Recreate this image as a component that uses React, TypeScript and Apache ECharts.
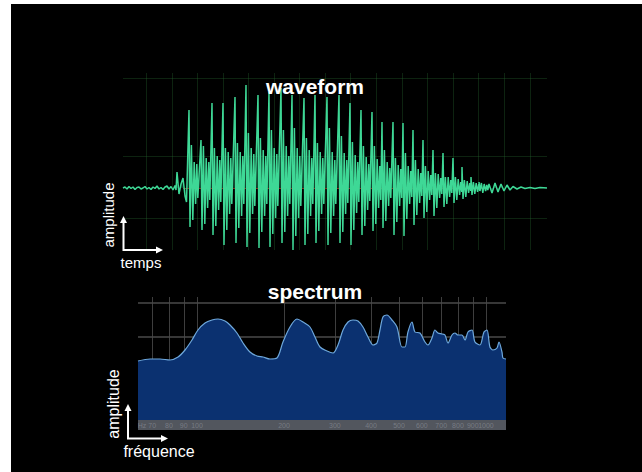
import React, { useEffect, useRef } from "react";
import * as echarts from "echarts";

// ---------- waveform (x: time offset, y: amplitude) ----------
const WAVE_LEAD: number[][] = [
  [0, 0], [2, 1], [4, -1], [6, 1.5], [8, -0.5], [10, 1], [12, -1.5], [14, 0.5],
  [16, 1], [18, -1], [20, 0], [22, 1.5], [24, -1], [26, 0.5], [28, -1.5], [30, 1],
  [32, -0.5], [34, 2], [36, -1], [38, 0.5], [40, -1.5], [42, 1], [44, 2], [46, -1],
  [48, 1.5], [50, -2], [52, 2.5], [53, -2], [54, 16], [56, -6], [58, 4], [60, 10],
  [62, -8], [63.5, -14],
];
// per pitch cycle: [time, peak, trough, 2nd peak, 2nd trough, 3rd peak, 3rd trough, 4th peak, 4th trough]
const WAVE_CYCLES: number[][] = [
  [66, 78, -39, 43, -32, 26, -16, 24, -10],
  [78, 48, -42, 42, -36, 30, -20, 26, -12],
  [89, 85, -47, 40, -38, 32, -22, 28, -14],
  [100, 85, -57, 40, -42, 36, -26, 30, -16],
  [112, 91, -55, 45, -40, 36, -28, 32, -16],
  [123, 103, -59, 55, -45, 40, -26, 34, -18],
  [135, 93, -60, 50, -44, 38, -28, 32, -16],
  [146, 96, -59, 58, -46, 40, -30, 34, -18],
  [158, 100, -55, 58, -44, 42, -28, 32, -16],
  [169, 93, -62, 60, -48, 40, -30, 32, -18],
  [181, 90, -57, 50, -46, 38, -28, 30, -16],
  [192, 93, -55, 45, -43, 36, -26, 30, -16],
  [204, 91, -57, 60, -45, 36, -28, 28, -16],
  [216, 93, -55, 52, -44, 35, -26, 28, -15],
  [227, 85, -57, 46, -42, 33, -25, 26, -14],
  [238, 78, -47, 42, -38, 31, -22, 24, -13],
  [249, 76, -43, 42, -36, 29, -20, 22, -12],
  [259, 66, -40, 38, -33, 26, -18, 20, -10],
  [270, 66, -47, 30, -34, 23, -18, 19, -10],
  [280, 65, -48, 35, -31, 22, -16, 17, -9],
  [290, 58, -37, 28, -27, 19, -15, 15, -8],
  [300, 48, -30, 22, -24, 17, -12, 13, -7],
  [310, 38, -28, 15, -20, 14, -10, 10, -6],
  [320, 35, -19, 11, -16, 11, -9, 8, -5],
  [330, 30, -15, 11, -12, 9, -7, 6, -4],
  [339, 21, -11, 8, -9, 7, -5, 5, -3],
  [348, 11, -7, 6, -6, 5, -4, 4, -3],
  [356, 6, -3, 5, -5, 4, -3, 3, -2],
];
const CYCLE_OFFSETS = [0, 1, 2.4, 3.8, 5.2, 6.6, 7.8, 8.8];
const WAVE_TAIL: number[][] = [
  [366, 4], [369, -5], [372, 5], [375, -4], [378, 4], [381, -3], [384, 3], [387, -2],
  [390, 1.5], [394, -1], [398, 1], [402, -0.5], [407, 0.5], [412, -0.5], [417, 0.5], [424, 0],
];
const WAVE_VGRID = [23, 49, 74, 100, 125, 151, 176, 202, 227, 253, 279, 304, 330, 355, 381, 407];
const WAVE_HGRID = [110, 32, -30];

// ---------- spectrum (x: frequency Hz, y: level) ----------
const SPECTRUM: number[][] = [
  [62.5, 59], [68.8, 61], [74.5, 61], [80.6, 60], [86.0, 63], [90.9, 70], [96.1, 80],
  [100.8, 90], [106.6, 97], [112.7, 100], [118.2, 101], [125.0, 99], [130.1, 95],
  [137.5, 87], [144.3, 77], [152.5, 68], [161.3, 64], [169.2, 63], [178.9, 61],
  [189.1, 62], [198.4, 78], [209.8, 93], [221.8, 101], [232.7, 98], [246.0, 93],
  [256.0, 83], [266.5, 73], [281.8, 69], [295.6, 67], [307.6, 75], [320.1, 90],
  [333.1, 98], [346.6, 100], [360.7, 99], [375.3, 93], [390.6, 83], [406.4, 75],
  [419.6, 77], [429.7, 90], [440.1, 103], [454.3, 105], [472.8, 100], [492.0, 93],
  [512.0, 73], [524.4, 73], [537.1, 88], [554.5, 98], [567.9, 88], [591.0, 87],
  [615.0, 78], [629.9, 75], [650.3, 82], [666.0, 90], [682.2, 87], [704.3, 86],
  [721.3, 85], [738.8, 77], [762.7, 85], [781.2, 87], [800.1, 85], [826.0, 85],
  [846.0, 80], [866.5, 88], [894.6, 90], [916.1, 78], [953.3, 75], [984.2, 88],
  [1008, 90], [1032, 73], [1057, 70], [1092, 72], [1109, 78], [1136, 68],
  [1145, 62], [1173, 61],
];
const SPEC_VGRID = [70, 80, 90, 100, 200, 300, 400, 500, 600, 700, 800, 900, 1000];
const SPEC_HGRID = [117, 83];
const SPEC_TICKS: { f: number; label: string }[] = [
  { f: 64.5, label: "Hz" }, { f: 70, label: "70" }, { f: 80, label: "80" },
  { f: 90, label: "90" }, { f: 100, label: "100" }, { f: 200, label: "200" },
  { f: 300, label: "300" }, { f: 400, label: "400" }, { f: 500, label: "500" },
  { f: 600, label: "600" }, { f: 700, label: "700" }, { f: 800, label: "800" },
  { f: 900, label: "900" }, { f: 1000, label: "1000" },
];

const FONT = '"Liberation Sans", Arial, Helvetica, sans-serif';

function buildWave(): number[][] {
  const pts: number[][] = [...WAVE_LEAD];
  WAVE_CYCLES.forEach((row) => {
    CYCLE_OFFSETS.forEach((o, i) => pts.push([row[0] + o, row[i + 1]]));
  });
  return pts.concat(WAVE_TAIL);
}

function txt(text: string, x: number, y: number, font: string, rotation = 0) {
  return {
    type: "text",
    x,
    y,
    rotation,
    z: 100,
    style: {
      text,
      font,
      fill: "#ffffff",
      align: "center",
      verticalAlign: "middle",
      textAlign: "center",
      textVerticalAlign: "middle",
    },
  };
}

export default function App() {
  const ref = useRef<HTMLDivElement>(null);
  useEffect(() => {
    const chart = echarts.init(ref.current!, null, { renderer: "svg" });
    const option: any = {
      animation: false,
      backgroundColor: "transparent",
      grid: [
        { left: 123, top: 73, width: 424, height: 177 },
        { left: 138, top: 297, width: 368, height: 133 },
      ],
      xAxis: [
        { gridIndex: 0, type: "value", min: 0, max: 424, show: false },
        { gridIndex: 1, type: "log", logBase: 10, min: 62.5, max: 1173, show: false },
      ],
      yAxis: [
        { gridIndex: 0, type: "value", min: -62, max: 115, show: false },
        { gridIndex: 1, type: "value", min: -10, max: 123, show: false },
      ],
      series: [
        {
          name: "waveGrid",
          type: "line",
          xAxisIndex: 0,
          yAxisIndex: 0,
          data: [],
          z: 1,
          silent: true,
          markLine: {
            z: 1,
            silent: true,
            symbol: "none",
            label: { show: false },
            lineStyle: { color: "rgba(40,110,50,0.32)", width: 1, type: "solid" },
            data: [
              ...WAVE_VGRID.map((v) => ({ xAxis: v })),
              ...WAVE_HGRID.map((v) => ({ yAxis: v })),
              [
                { coord: [60, 0], lineStyle: { color: "#8a2c1c", width: 1, type: "solid" } },
                { coord: [362, 0] },
              ],
            ],
          },
        },
        {
          name: "waveform",
          type: "line",
          xAxisIndex: 0,
          yAxisIndex: 0,
          data: buildWave(),
          showSymbol: false,
          z: 3,
          lineStyle: { color: "#3ed896", width: 1.5 },
          areaStyle: { color: "rgba(50,190,130,0.35)" },
        },
        {
          name: "specGrid",
          type: "line",
          xAxisIndex: 1,
          yAxisIndex: 1,
          data: [],
          z: 1,
          silent: true,
          markLine: {
            z: 1,
            silent: true,
            symbol: "none",
            label: { show: false },
            lineStyle: { color: "#3e3e3e", width: 1, type: "solid" },
            data: [
              ...SPEC_VGRID.map((f) => [{ coord: [f, 0] }, { coord: [f, 123] }]),
              ...SPEC_HGRID.map((v) => ({ yAxis: v, lineStyle: { color: "#4a4a4a", width: 1.5, type: "solid" } })),
            ],
          },
          markArea: {
            z: 1,
            silent: true,
            itemStyle: { color: "#52565e" },
            data: [[{ yAxis: -10 }, { yAxis: 0 }]],
          },
        },
        {
          name: "spectrum",
          type: "line",
          xAxisIndex: 1,
          yAxisIndex: 1,
          data: SPECTRUM,
          smooth: 0.3,
          showSymbol: false,
          z: 3,
          lineStyle: { color: "#6ea8dc", width: 1.2 },
          areaStyle: { color: "#0b3170", opacity: 1 },
        },
        {
          name: "specTicks",
          type: "scatter",
          xAxisIndex: 1,
          yAxisIndex: 1,
          z: 5,
          silent: true,
          symbolSize: 1,
          itemStyle: { color: "rgba(0,0,0,0)" },
          data: SPEC_TICKS.map((t) => ({ value: [t.f, -5], name: t.label })),
          label: {
            show: true,
            position: "inside",
            formatter: "{b}",
            color: "#80858e",
            fontSize: 7,
            fontFamily: FONT,
          },
        },
      ],
      graphic: [
        txt("waveform", 315, 86, `bold 21px ${FONT}`),
        txt("spectrum", 315, 291, `bold 21px ${FONT}`),
        txt("amplitude", 108, 215, `15px ${FONT}`, Math.PI / 2),
        txt("temps", 141, 262, `15px ${FONT}`),
        txt("amplitude", 113, 404, `16px ${FONT}`, Math.PI / 2),
        txt("fréquence", 159, 451, `16px ${FONT}`),
        {
          type: "polyline",
          z: 100,
          shape: { points: [[123.5, 221], [123.5, 250], [158, 250]] },
          style: { stroke: "#ffffff", lineWidth: 2, fill: "none" },
        },
        {
          type: "polygon",
          z: 100,
          shape: { points: [[123.5, 216], [120, 223], [127, 223]] },
          style: { fill: "#ffffff" },
        },
        {
          type: "polygon",
          z: 100,
          shape: { points: [[163, 250], [156, 246.5], [156, 253.5]] },
          style: { fill: "#ffffff" },
        },
        {
          type: "polyline",
          z: 100,
          shape: { points: [[128, 409], [128, 438.5], [163, 438.5]] },
          style: { stroke: "#ffffff", lineWidth: 2, fill: "none" },
        },
        {
          type: "polygon",
          z: 100,
          shape: { points: [[128, 404], [124.5, 411], [131.5, 411]] },
          style: { fill: "#ffffff" },
        },
        {
          type: "polygon",
          z: 100,
          shape: { points: [[168, 438.5], [161, 435], [161, 442]] },
          style: { fill: "#ffffff" },
        },
      ],
    };
    chart.setOption(option);
    return () => chart.dispose();
  }, []);
  return (
    <div
      style={{
        position: "fixed",
        left: 0,
        top: 0,
        width: 642,
        height: 472,
        background: "#ffffff",
        overflow: "hidden",
      }}
    >
      <div style={{ position: "absolute", left: 11, top: 4, right: 0, bottom: 0, background: "#000000" }} />
      <div ref={ref} style={{ position: "absolute", left: 0, top: 0, width: 642, height: 472 }} />
    </div>
  );
}
